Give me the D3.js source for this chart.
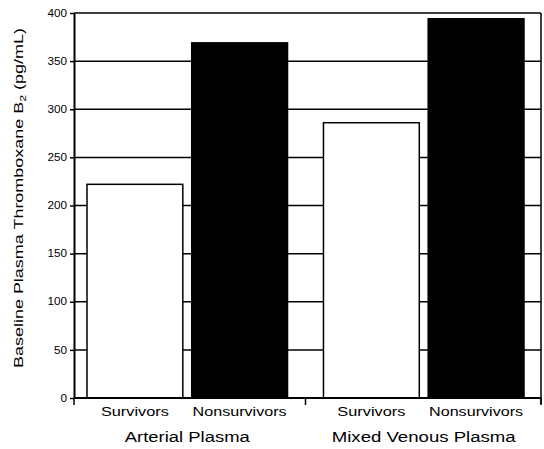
<!DOCTYPE html>
<html>
<head>
<meta charset="utf-8">
<script src="https://cdn.jsdelivr.net/npm/d3@7"></script>
<style>
  body { margin: 0; background: #fff; }
  svg { display: block; }
  text { font-family: "Liberation Sans", Arial, sans-serif; fill: #000; }
</style>
</head>
<body>
<div id="chart"></div>
<script>
// Data
var groups = ["Arterial Plasma", "Mixed Venous Plasma"];
var outcomes = ["Survivors", "Nonsurvivors"];
var survivorValues = [222, 286];
var nonsurvivorValues = [369, 394];
var yTicks = [0, 50, 100, 150, 200, 250, 300, 350, 400];

var svgWidth = 544;
var svgHeight = 449;

var margin = { top: 13, right: 3, bottom: 51, left: 74 };
var width = svgWidth - margin.left - margin.right;
var height = svgHeight - margin.top - margin.bottom;

var svg = d3.select("#chart")
  .append("svg")
  .attr("width", svgWidth)
  .attr("height", svgHeight);

var chartGroup = svg.append("g")
  .attr("transform", `translate(${margin.left}, ${margin.top})`);

// build rows from the arrays
var rows = [];
groups.forEach(function(g, i) {
  rows.push({ group: g, outcome: outcomes[0], value: survivorValues[i] });
  rows.push({ group: g, outcome: outcomes[1], value: nonsurvivorValues[i] });
});

// Scales
var x0 = d3.scaleBand()
  .domain(groups)
  .range([0, width - 4])
  .paddingInner(0.152)
  .paddingOuter(0.055);

var x1 = d3.scaleBand()
  .domain(outcomes)
  .range([0, x0.bandwidth()])
  .paddingInner(0.085);

var yLinearScale = d3.scaleLinear()
  .domain([0, 400])
  .range([height, 0]);

// gridlines behind the bars
chartGroup.selectAll("line.grid")
  .data(yTicks.filter(d => d > 0))
  .enter()
  .append("line")
  .attr("class", "grid")
  .attr("x1", 0)
  .attr("x2", width)
  .attr("y1", d => yLinearScale(d))
  .attr("y2", d => yLinearScale(d))
  .attr("stroke", "#000")
  .attr("stroke-width", 1.5);

// right frame
chartGroup.append("line")
  .attr("x1", width).attr("x2", width)
  .attr("y1", yLinearScale(400)).attr("y2", height + 6)
  .attr("stroke", "#000")
  .attr("stroke-width", 1.5);

// Bars
chartGroup.selectAll("rect.bar")
  .data(rows)
  .enter()
  .append("rect")
  .attr("class", "bar")
  .attr("x", d => x0(d.group) + x1(d.outcome))
  .attr("y", d => yLinearScale(d.value))
  .attr("width", x1.bandwidth())
  .attr("height", d => height - yLinearScale(d.value))
  .attr("fill", d => d.outcome === "Survivors" ? "#fff" : "#000")
  .attr("stroke", "#000")
  .attr("stroke-width", 1.5);

// Axes
var leftAxis = d3.axisLeft(yLinearScale)
  .tickValues(yTicks)
  .tickSizeInner(4)
  .tickSizeOuter(0)
  .tickPadding(3);

var yAxisG = chartGroup.append("g")
  .style("font-size", "10px")
  .call(leftAxis);
yAxisG.select(".domain").attr("stroke-width", 2);
yAxisG.selectAll(".tick line").attr("stroke-width", 1.5);
yAxisG.selectAll(".tick text")
  .style("font-family", "Liberation Sans, Arial, sans-serif")
  .attr("textLength", d => String(d).length * 6.5)
  .attr("lengthAdjust", "spacingAndGlyphs");

// baseline
chartGroup.append("line")
  .attr("x1", 0).attr("x2", width)
  .attr("y1", height).attr("y2", height)
  .attr("stroke", "#000")
  .attr("stroke-width", 2);

// group divider ticks under the baseline
var dividers = [0, (x0(groups[0]) + x0.bandwidth() + x0(groups[1])) / 2, width];
chartGroup.selectAll("line.divider")
  .data(dividers)
  .enter()
  .append("line")
  .attr("class", "divider")
  .attr("x1", d => d).attr("x2", d => d)
  .attr("y1", height).attr("y2", height + 7)
  .attr("stroke", "#000")
  .attr("stroke-width", 1.5);

// outcome labels (stretched to the width of the scanned lettering)
chartGroup.selectAll("text.outcome")
  .data(rows)
  .enter()
  .append("text")
  .attr("class", "outcome")
  .attr("x", d => x0(d.group) + x1(d.outcome) + x1.bandwidth() / 2)
  .attr("y", height + 18)
  .attr("text-anchor", "middle")
  .attr("textLength", d => d.outcome === "Survivors" ? 68 : 94)
  .attr("lengthAdjust", "spacingAndGlyphs")
  .style("font-size", "12px")
  .text(d => d.outcome);

// group labels
chartGroup.selectAll("text.group")
  .data(groups)
  .enter()
  .append("text")
  .attr("class", "group")
  .attr("x", d => x0(d) + x0.bandwidth() / 2)
  .attr("y", height + 44)
  .attr("text-anchor", "middle")
  .attr("textLength", (d, i) => i === 0 ? 125 : 184)
  .attr("lengthAdjust", "spacingAndGlyphs")
  .style("font-size", "14px")
  .text(d => d);

// y axis title
var yTitle = svg.append("text")
  .attr("transform", "translate(23, 198) rotate(-90)")
  .attr("text-anchor", "middle")
  .attr("textLength", 340)
  .attr("lengthAdjust", "spacingAndGlyphs")
  .style("font-size", "13px");
yTitle.append("tspan").text("Baseline Plasma Thromboxane B");
yTitle.append("tspan").attr("dy", 3).style("font-size", "9px").text("2");
yTitle.append("tspan").attr("dy", -3).text(" (pg/mL)");
</script>
</body>
</html>
